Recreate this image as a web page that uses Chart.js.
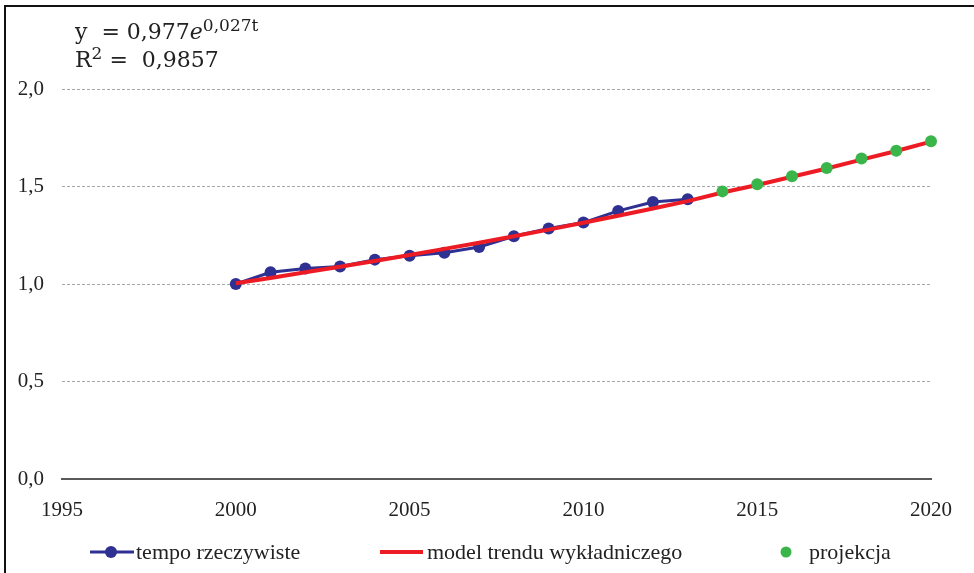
<!DOCTYPE html>
<html>
<head>
<meta charset="utf-8">
<script src="https://cdn.jsdelivr.net/npm/chart.js@4"></script>
<style>
  html, body { margin: 0; padding: 0; background: #fff; }
  #wrap { position: relative; width: 974px; height: 573px; overflow: hidden; }
  #frame { position: absolute; left: 4px; top: 5px; width: 1000px; height: 600px;
           border-top: 2px solid #111; border-left: 2px solid #111; pointer-events: none; }
  canvas { position: absolute; left: 0; top: 0; }
  .eq { position: absolute; left: 75px; font-family: "DejaVu Serif", serif; font-size: 22px; color: #222; line-height: 25px; }
  .eq sup { font-size: 17px; line-height: 0; }
  .legend { position: absolute; top: 538px; font-family: "Liberation Serif", serif; font-size: 22px; color: #222; white-space: nowrap; line-height: 28px; }
</style>
</head>
<body>
<div id="wrap">
  <canvas id="trendChart" width="974" height="573"></canvas>
  <div id="frame"></div>
  <div class="eq" style="top:19px;">y&nbsp; = 0,977<i>e</i><sup>0,027t</sup></div>
  <div class="eq" style="top:47px;">R<sup>2</sup> = &nbsp;0,9857</div>

  <div class="legend" style="left:90px;">
    <svg width="46" height="14" style="vertical-align:0px"><line x1="0" y1="7" x2="44" y2="7" stroke="#2e3192" stroke-width="3"/><circle cx="21" cy="7" r="6" fill="#2e3192"/></svg>tempo rzeczywiste
  </div>
  <div class="legend" style="left:380px;">
    <svg width="47" height="14" style="vertical-align:0px"><line x1="0" y1="7" x2="43" y2="7" stroke="#ed1c24" stroke-width="4"/></svg>model trendu wykładniczego
  </div>
  <div class="legend" style="left:780px;">
    <svg width="29" height="14" style="vertical-align:0px"><circle cx="6" cy="7" r="5.5" fill="#39b54a"/></svg>projekcja
  </div>
</div>
<script>
// tempo rzeczywiste 2000-2013
const actualYears = [2000, 2001, 2002, 2003, 2004, 2005, 2006, 2007, 2008, 2009, 2010, 2011, 2012, 2013];
const actualValues = [1.00, 1.06, 1.08, 1.09, 1.125, 1.145, 1.16, 1.19, 1.245, 1.285, 1.315, 1.375, 1.42, 1.435];

// model trendu wykladniczego 2000-2020
const trendYears = [2000, 2001, 2002, 2003, 2004, 2005, 2006, 2007, 2008, 2009, 2010,
                    2011, 2012, 2013, 2014, 2015, 2016, 2017, 2018, 2019, 2020];
const trendValues = [1.004, 1.031, 1.060, 1.088, 1.118, 1.149, 1.180, 1.212, 1.245, 1.279, 1.314,
                     1.350, 1.387, 1.425, 1.469, 1.508, 1.550, 1.592, 1.638, 1.682, 1.730];

// projekcja 2014-2020
const projYears = [2014, 2015, 2016, 2017, 2018, 2019, 2020];
const projValues = [1.475, 1.512, 1.553, 1.595, 1.643, 1.683, 1.732];

const xTicks = [1995, 2000, 2005, 2010, 2015, 2020];
const yTicks = [0, 0.5, 1.0, 1.5, 2.0];

const toPoints = (xs, ys) => xs.map((x, i) => ({ x: x, y: ys[i] }));
const tickFont = { family: "Liberation Serif", size: 21 };

new Chart(document.getElementById("trendChart"), {
  type: "line",
  data: {
    datasets: [
      {
        label: "projekcja",
        data: toPoints(projYears, projValues),
        showLine: false,
        pointRadius: 6,
        pointBackgroundColor: "#39b54a",
        pointBorderWidth: 0,
        clip: false,
        order: 0
      },
      {
        label: "model trendu wykładniczego",
        data: toPoints(trendYears, trendValues),
        borderColor: "#ed1c24",
        borderWidth: 4,
        pointRadius: 0,
        clip: false,
        order: 1
      },
      {
        label: "tempo rzeczywiste",
        data: toPoints(actualYears, actualValues),
        borderColor: "#2e3192",
        borderWidth: 3,
        pointRadius: 6,
        pointBackgroundColor: "#2e3192",
        pointBorderWidth: 0,
        clip: false,
        order: 2
      }
    ]
  },
  options: {
    responsive: false,
    animation: false,
    layout: { padding: { top: 89, right: 43, bottom: 0, left: 0 } },
    plugins: { legend: { display: false }, tooltip: { enabled: false } },
    scales: {
      x: {
        type: "linear",
        min: 1995,
        max: 2020,
        afterBuildTicks: (scale) => { scale.ticks = xTicks.map(v => ({ value: v })); },
        afterFit: (scale) => { scale.height = 94; },
        ticks: { color: "#222", font: tickFont, padding: 11, callback: (v) => String(v) },
        grid: { display: false },
        border: { display: true, color: "#595959", width: 2 }
      },
      y: {
        min: 0,
        max: 2,
        afterBuildTicks: (scale) => { scale.ticks = yTicks.map(v => ({ value: v })); },
        afterFit: (scale) => { scale.width = 62; },
        ticks: { color: "#222", font: tickFont, padding: 18,
                 callback: (v) => v.toFixed(1).replace(".", ",") },
        grid: {
          drawTicks: false,
          color: (ctx) => ctx.tick && ctx.tick.value === 0 ? "rgba(0,0,0,0)" : "#a6a6a6",
          lineWidth: 1
        },
        border: { display: false, dash: [3, 2] }
      }
    }
  }
});
</script>
</body>
</html>
